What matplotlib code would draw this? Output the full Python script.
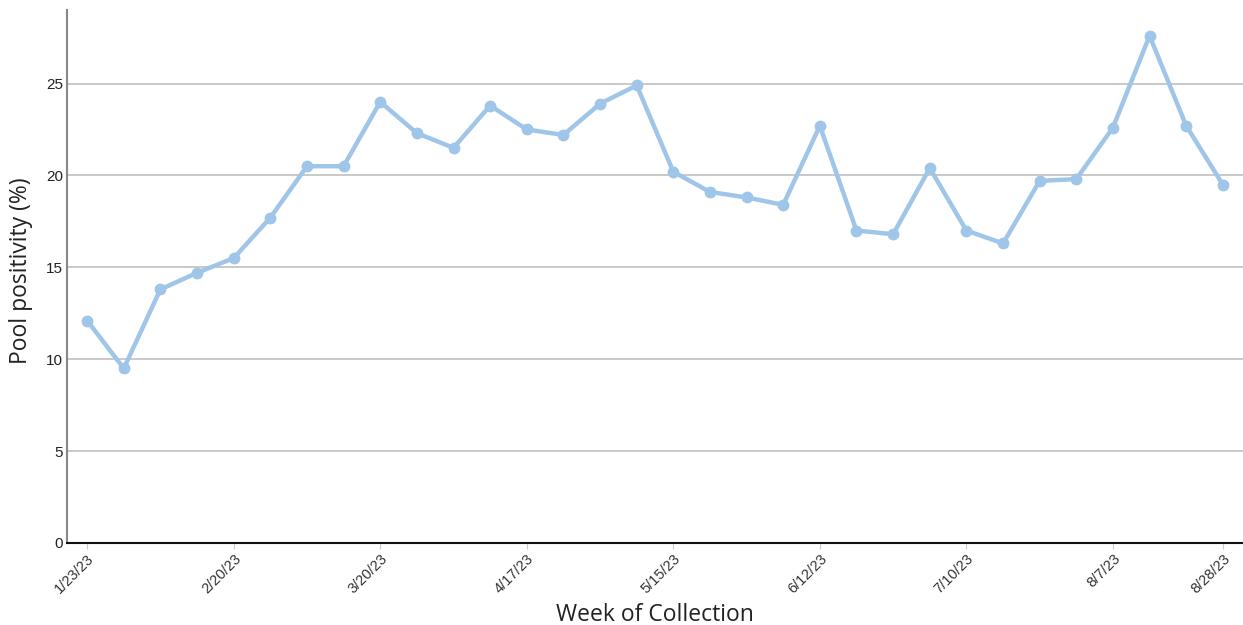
import matplotlib
matplotlib.use('Agg')
import matplotlib.pyplot as plt

# weekly collection dates and pool positivity
weeks = ['1/23/23', '1/30/23', '2/6/23', '2/13/23', '2/20/23', '2/27/23', '3/6/23', '3/13/23',
         '3/20/23', '3/27/23', '4/3/23', '4/10/23', '4/17/23', '4/24/23', '5/1/23', '5/8/23',
         '5/15/23', '5/22/23', '5/29/23', '6/5/23', '6/12/23', '6/19/23', '6/26/23', '7/3/23',
         '7/10/23', '7/17/23', '7/24/23', '7/31/23', '8/7/23', '8/14/23', '8/21/23', '8/28/23']
positivity = [12.1, 9.5, 13.8, 14.7, 15.5, 17.7, 20.5, 20.5, 24.0, 22.3, 21.5, 23.8, 22.5, 22.2, 23.9, 24.9,
              20.2, 19.1, 18.8, 18.4, 22.7, 17.0, 16.8, 20.4, 17.0, 16.3, 19.7, 19.8, 22.6, 27.6, 22.7, 19.5]
shown_ticks = ['1/23/23', '2/20/23', '3/20/23', '4/17/23', '5/15/23', '6/12/23', '7/10/23', '8/7/23', '8/28/23']
y_ticks = [0, 5, 10, 15, 20, 25]

fig = plt.figure(figsize=(12.43, 6.25), dpi=100)
ax = fig.add_axes([67/1243, 82/625, 1 - 67/1243, 533/625])

x = list(range(len(weeks)))
ax.plot(x, positivity, color='#9fc5e8', lw=3.2, marker='o', ms=7.5, zorder=3, solid_capstyle='round')

ax.set_xlim(-0.55, 31.55)
ax.set_ylim(0, 29)
ax.set_yticks(y_ticks)
ax.set_yticklabels([str(v) for v in y_ticks], fontsize=11, family='Liberation Sans', color='#222222')
ax.yaxis.grid(True, color='#bbbbbb', lw=1.1)
ax.set_axisbelow(True)
ax.tick_params(axis='y', length=0, pad=3)

tick_pos = [weeks.index(w) for w in shown_ticks]
ax.set_xticks(tick_pos)
ax.set_xticklabels(shown_ticks, rotation=45, ha='right', rotation_mode='anchor',
                   fontsize=10.5, family='Liberation Sans', color='#333333')
ax.tick_params(axis='x', length=4, color='#cccccc', pad=2)

for s in ['top', 'right']:
    ax.spines[s].set_visible(False)
ax.spines['left'].set_color('#888888')
ax.spines['left'].set_linewidth(1.5)
ax.spines['bottom'].set_color('#111111')
ax.spines['bottom'].set_linewidth(1.5)

ax.set_xlabel('Week of Collection', family='Open Sans', fontsize=16.5, color='#222222', labelpad=5)
ax.set_ylabel('Pool positivity (%)', family='Open Sans', fontsize=16.5, color='#222222')
ax.yaxis.set_label_coords(-0.029, 0.51)

fig.savefig('out.png', dpi=100)
